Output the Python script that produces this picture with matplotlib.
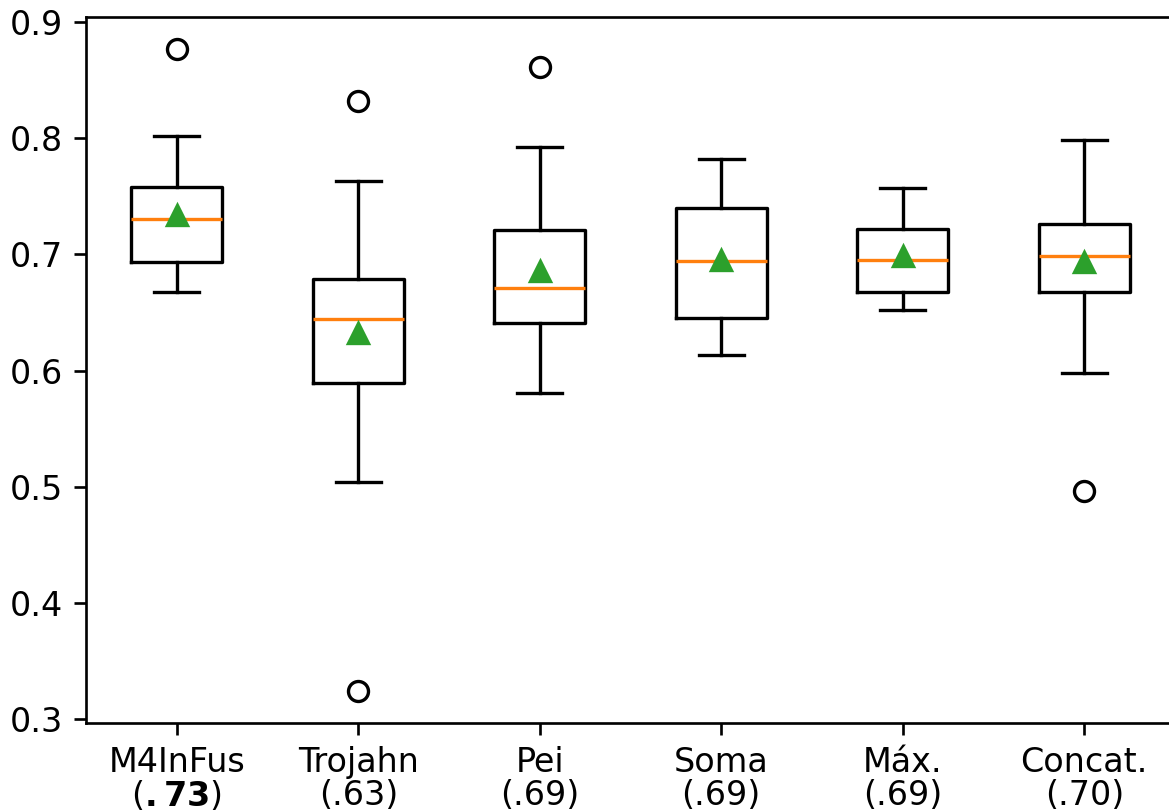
import matplotlib
matplotlib.use('Agg')
import matplotlib.pyplot as plt

labels = ['M4InFus\n($\\bf{.73}$)', 'Trojahn\n(.63)', 'Pei\n(.69)',
          'Soma\n(.69)', 'Máx.\n(.69)', 'Concat.\n(.70)']
whislo = [0.668, 0.504, 0.581, 0.613, 0.652, 0.598]
q1 = [0.693, 0.589, 0.641, 0.645, 0.668, 0.668]
med = [0.730, 0.644, 0.671, 0.694, 0.695, 0.699]
means = [0.734, 0.632, 0.686, 0.695, 0.699, 0.693]
q3 = [0.758, 0.679, 0.721, 0.740, 0.722, 0.726]
whishi = [0.802, 0.763, 0.792, 0.782, 0.757, 0.798]
fliers = [[0.877], [0.832, 0.324], [0.861], [], [], [0.496]]

stats = []
for i in range(len(labels)):
    stats.append({'label': labels[i], 'whislo': whislo[i], 'q1': q1[i],
                  'med': med[i], 'mean': means[i], 'q3': q3[i],
                  'whishi': whishi[i], 'fliers': fliers[i]})

fig = plt.figure(figsize=(1169 / 240, 812 / 240), dpi=240)
ax = fig.add_axes([86 / 1169, 89 / 812, 1089 / 1169, 706 / 812])
ax.bxp(stats, showmeans=True)
ax.set_xlim(0.5, 6.5)
ax.set_ylim(0.2966, 0.9043)
ax.set_yticks([0.3, 0.4, 0.5, 0.6, 0.7, 0.8, 0.9])
for t in ax.get_xticklabels():
    t.set_linespacing(1.0)

fig.savefig('out.png', dpi=240)
